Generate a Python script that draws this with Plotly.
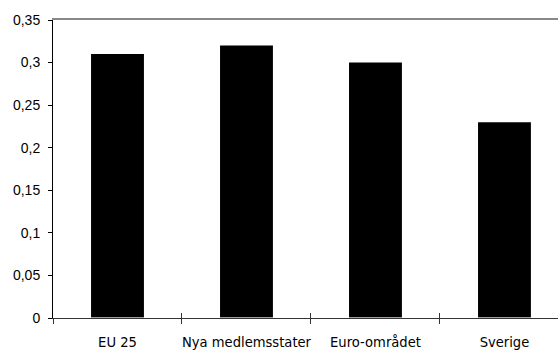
import plotly.graph_objects as go

categories = ["EU 25", "Nya medlemsstater", "Euro-området", "Sverige"]
values = [0.31, 0.32, 0.30, 0.23]
y_ticks = [0, 0.05, 0.10, 0.15, 0.20, 0.25, 0.30, 0.35]
y_tick_labels = ["0", "0,05", "0,1", "0,15", "0,2", "0,25", "0,3", "0,35"]

fig = go.Figure()
fig.add_trace(go.Bar(
    x=categories, y=values,
    marker=dict(color="black", line=dict(width=0)),
    xaxis="x", yaxis="y",
))

x_range = [-0.5, 3.415]
narrow = "DejaVu Sans Condensed, Liberation Sans, Arial, sans-serif"

fig.update_layout(
    width=558, height=351,
    margin=dict(l=53, r=0, t=20, b=33, autoexpand=False),
    paper_bgcolor="white", plot_bgcolor="white",
    showlegend=False,
    bargap=0.59,
    xaxis=dict(
        type="category", range=x_range, automargin=False,
        showline=True, linecolor="#333333", linewidth=1,
        ticks="outside", tickson="boundaries", ticklen=5, tickcolor="#333333",
        showgrid=False, zeroline=False, tickangle=0,
        tickfont=dict(family=narrow, size=14.6, color="black"),
        ticklabelstandoff=10,
    ),
    # inward half of the crossing category ticks
    xaxis2=dict(
        type="category", range=x_range, overlaying="x", side="bottom", automargin=False,
        ticks="inside", tickson="boundaries", ticklen=5, tickcolor="#333333",
        showticklabels=False, showline=False, showgrid=False, zeroline=False,
    ),
    # top frame line
    xaxis3=dict(
        type="category", range=x_range, overlaying="x", side="top", automargin=False,
        showline=True, linecolor="#888888", linewidth=2,
        ticks="", showticklabels=False, showgrid=False, zeroline=False,
    ),
    yaxis=dict(
        range=[0, 0.35], automargin=False,
        tickvals=y_ticks, ticktext=y_tick_labels,
        showline=True, linecolor="black", linewidth=1,
        ticks="outside", ticklen=4, tickcolor="black",
        showgrid=False, zeroline=False,
        tickfont=dict(family="Arial", size=14, color="black"),
        ticklabelstandoff=5,
    ),
)

# invisible traces so the overlay axes are drawn
fig.add_trace(go.Bar(x=categories, y=[0] * len(categories), xaxis="x2", yaxis="y",
                     marker=dict(color="rgba(0,0,0,0)"), hoverinfo="skip"))
fig.add_trace(go.Bar(x=categories, y=[0] * len(categories), xaxis="x3", yaxis="y",
                     marker=dict(color="rgba(0,0,0,0)"), hoverinfo="skip"))

fig.write_html("out.html")
